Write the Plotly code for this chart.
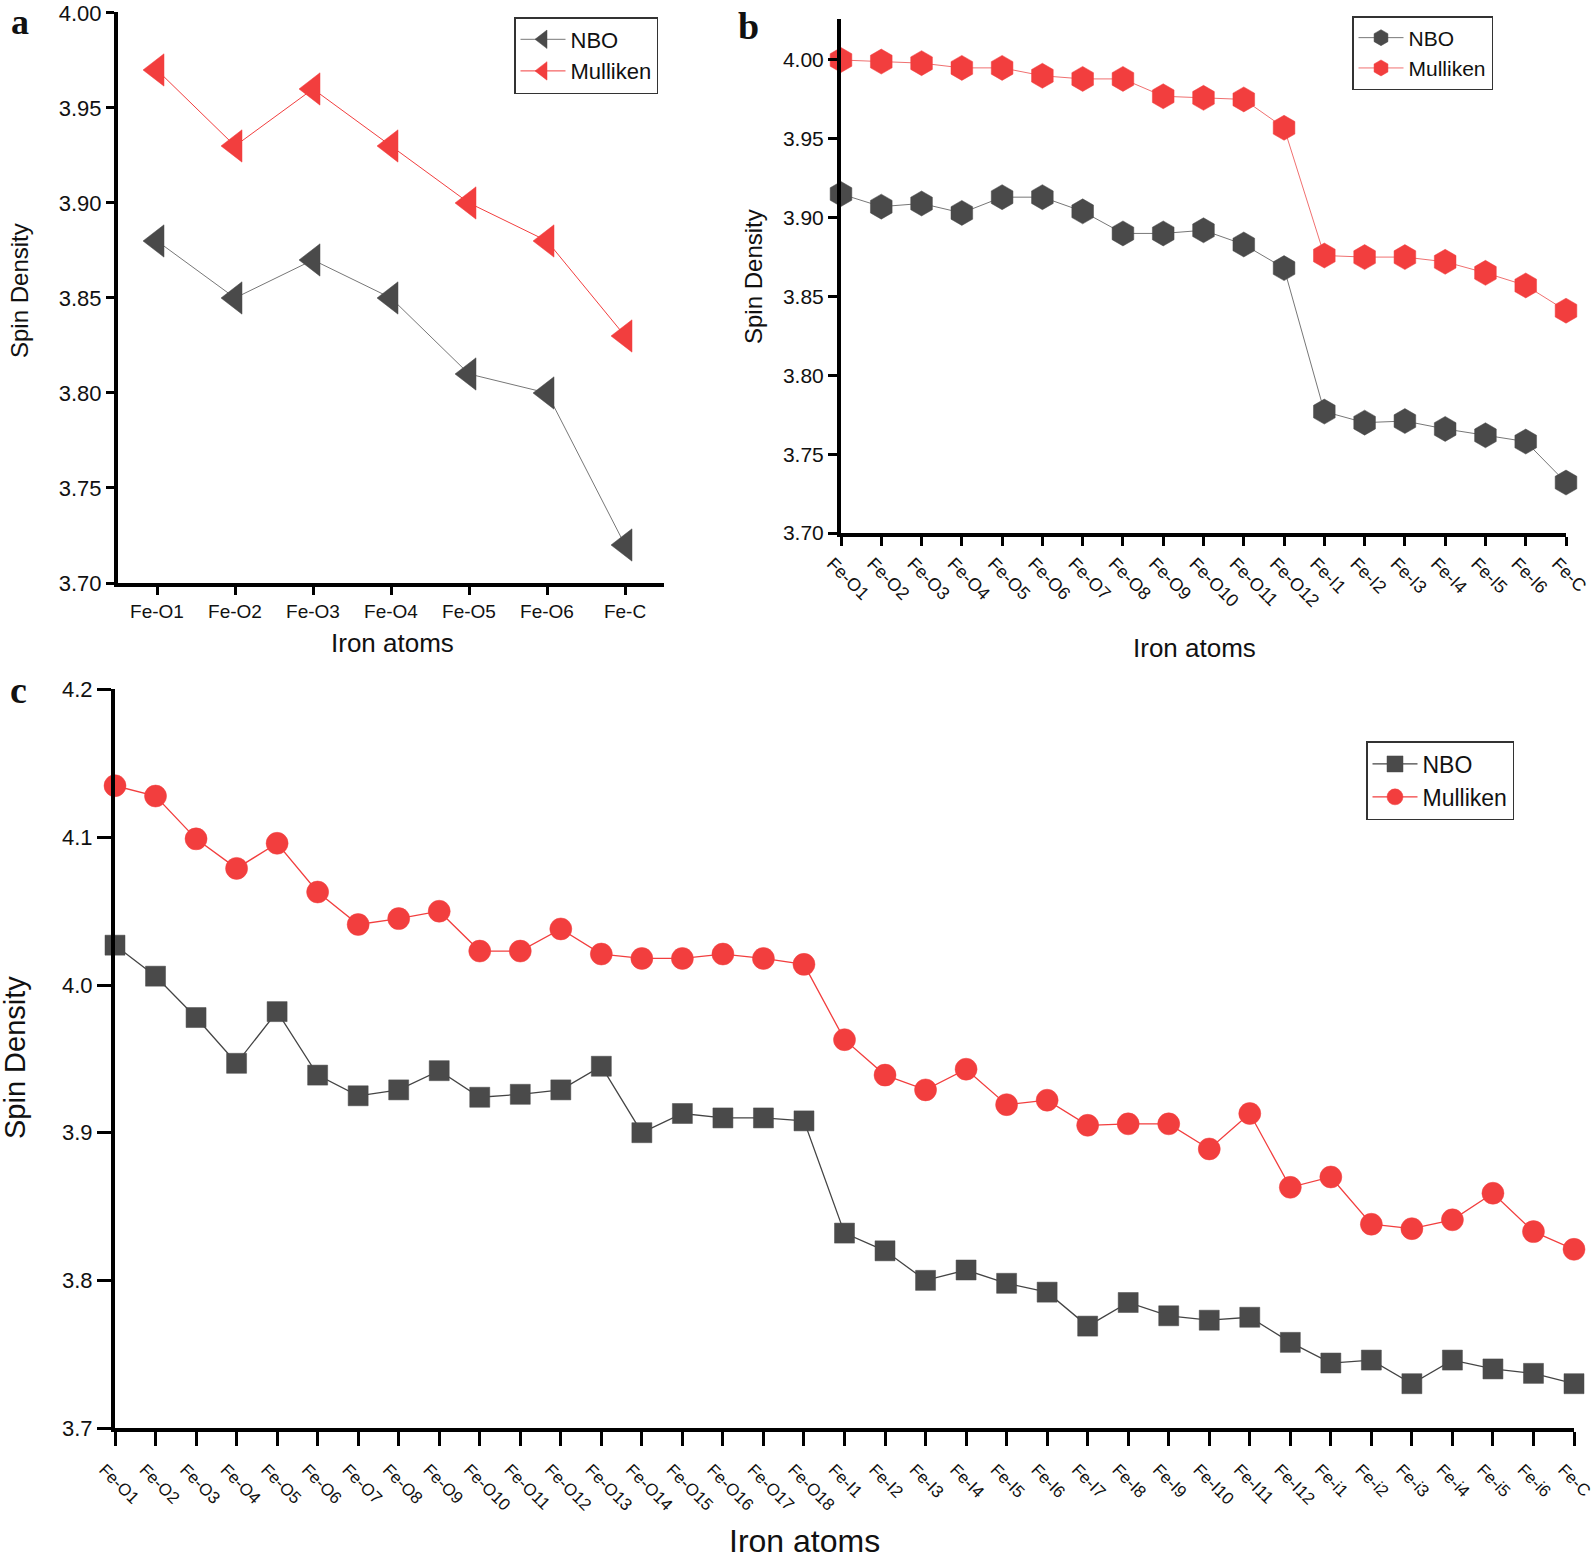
import plotly.graph_objects as go

W, H = 1596, 1560

# panel a
cats_a = ["Fe-O1", "Fe-O2", "Fe-O3", "Fe-O4", "Fe-O5", "Fe-O6", "Fe-C"]
nbo_a = [3.88, 3.85, 3.87, 3.85, 3.81, 3.80, 3.72]
mul_a = [3.97, 3.93, 3.96, 3.93, 3.90, 3.88, 3.83]
yticks_ab = [3.70, 3.75, 3.80, 3.85, 3.90, 3.95, 4.00]

# panel b
cats_b = ["Fe-O%d" % i for i in range(1, 13)] + ["Fe-I%d" % i for i in range(1, 7)] + ["Fe-C"]
nbo_b = [3.915, 3.907, 3.909, 3.903, 3.913, 3.913, 3.904, 3.890, 3.890, 3.892,
         3.883, 3.868, 3.777, 3.770, 3.771, 3.766, 3.762, 3.758, 3.732]
mul_b = [4.000, 3.999, 3.998, 3.995, 3.995, 3.990, 3.988, 3.988, 3.977, 3.976,
         3.975, 3.957, 3.876, 3.875, 3.875, 3.872, 3.865, 3.857, 3.841]

# panel c
cats_c = (["Fe-O%d" % i for i in range(1, 19)] + ["Fe-I%d" % i for i in range(1, 13)]
          + ["Fe-i%d" % i for i in range(1, 7)] + ["Fe-C"])
nbo_c = [4.027, 4.006, 3.978, 3.947, 3.982, 3.939, 3.925, 3.929, 3.942, 3.924,
         3.926, 3.929, 3.945, 3.900, 3.913, 3.910, 3.910, 3.908,
         3.832, 3.820, 3.800, 3.807, 3.798, 3.792, 3.769, 3.785, 3.776, 3.773,
         3.775, 3.758, 3.744, 3.746, 3.730, 3.746, 3.740, 3.737, 3.730]
mul_c = [4.135, 4.128, 4.099, 4.079, 4.096, 4.063, 4.041, 4.045, 4.050, 4.023,
         4.023, 4.038, 4.021, 4.018, 4.018, 4.021, 4.018, 4.014,
         3.963, 3.939, 3.929, 3.943, 3.919, 3.922, 3.905, 3.906, 3.906, 3.889,
         3.913, 3.863, 3.870, 3.838, 3.835, 3.841, 3.859, 3.833, 3.821]
yticks_c = [3.7, 3.8, 3.9, 4.0, 4.1, 4.2]

GRAY = "#4a4a4a"
RED = "#f23e3e"
FONT = "Liberation Sans"

fig = go.Figure()


def add_series(cats, vals, name, xa, ya, leg, symbol, size, color, line_color, lw):
    fig.add_trace(go.Scatter(
        x=cats, y=vals, name=name, mode="lines+markers", xaxis=xa, yaxis=ya, legend=leg,
        line=dict(color=line_color, width=lw), cliponaxis=False,
        marker=dict(symbol=symbol, size=size, color=color, line=dict(width=0.5, color=color)),
    ))


add_series(cats_a, nbo_a, "NBO", "x", "y", "legend", "triangle-left", 28, GRAY, "#777777", 1)
add_series(cats_a, mul_a, "Mulliken", "x", "y", "legend", "triangle-left", 28, RED, RED, 1)
add_series(cats_b, nbo_b, "NBO", "x2", "y2", "legend2", "hexagon", 25, GRAY, "#777777", 1)
add_series(cats_b, mul_b, "Mulliken", "x2", "y2", "legend2", "hexagon", 25, RED, "#f07070", 1)
add_series(cats_c, nbo_c, "NBO", "x3", "y3", "legend3", "square", 20, GRAY, "#444444", 1.3)
add_series(cats_c, mul_c, "Mulliken", "x3", "y3", "legend3", "circle", 22, RED, RED, 1.3)

axis_common = dict(showline=True, linewidth=4, linecolor="black", showgrid=False, zeroline=False,
                   ticks="outside", tickwidth=3, tickcolor="black", automargin=False,
                   tickfont=dict(family=FONT, size=22, color="#111111"))
xtick_font = dict(family=FONT, size=19, color="#111111")


def legend_style(x, y, size):
    return dict(x=x / W, y=1 - y / H, xanchor="left", yanchor="top", itemwidth=45,
                bordercolor="#333333", borderwidth=1.5, bgcolor="white",
                font=dict(family=FONT, size=size, color="#111111"))


fig.update_layout(
    template="none",
    width=W, height=H,
    margin=dict(l=0, r=0, t=0, b=0, autoexpand=False),
    paper_bgcolor="white", plot_bgcolor="white",
    font=dict(family=FONT, color="#111111"),
    xaxis=dict(axis_common, domain=[118 / W, 664 / W], anchor="y", type="category",
               range=[-0.5, 6.5], ticklen=8, tickfont=xtick_font),
    yaxis=dict(axis_common, domain=[1 - 583 / H, 1 - 12 / H], anchor="x",
               range=[3.70, 4.0005], tickvals=yticks_ab, tickformat=".2f", ticklen=8),
    xaxis2=dict(axis_common, domain=[841 / W, 1566 / W], anchor="y2", type="category",
                range=[0, 18], ticklen=9, tickangle=45, ticklabelshift=-9,
                tickfont=dict(xtick_font, size=18)),
    yaxis2=dict(axis_common, domain=[1 - 533 / H, 1 - 19 / H], anchor="x2",
                range=[3.70, 4.026], tickvals=yticks_ab, tickformat=".2f", ticklen=9,
                tickfont=dict(family=FONT, size=21, color="#111111")),
    xaxis3=dict(axis_common, domain=[115 / W, 1574 / W], anchor="y3", type="category",
                range=[0, 36], ticklen=14, tickangle=45, ticklabelshift=-11, ticklabelstandoff=7,
                tickfont=dict(xtick_font, size=17)),
    yaxis3=dict(axis_common, domain=[1 - 1428 / H, 1 - 689 / H], anchor="x3",
                range=[3.7, 4.2005], tickvals=yticks_c, tickformat=".1f", ticklen=14),
    legend=legend_style(514, 17, 22),
    legend2=legend_style(1352, 16, 21),
    legend3=legend_style(1366, 741, 23),
    showlegend=True,
)


def txt(x, y, s, size, angle=0, family=FONT, bold=False, yanchor="middle"):
    fig.add_annotation(x=x / W, y=1 - y / H, xref="paper", yref="paper",
                       text=("<b>%s</b>" % s) if bold else s,
                       showarrow=False, textangle=angle, xanchor="center", yanchor=yanchor,
                       font=dict(family=family, size=size, color="#111111"))


# axis titles
txt(392, 643, "Iron atoms", 26)
txt(19, 291, "Spin Density", 24, -90)
txt(1194, 648, "Iron atoms", 26)
txt(753, 277, "Spin Density", 24, -90)
txt(804, 1541, "Iron atoms", 32)
txt(15, 1058, "Spin Density", 29, -90)

# panel letters
txt(20, 0, "a", 36, family="Liberation Serif", bold=True, yanchor="top")
txt(748, 26, "b", 38, family="Liberation Serif", bold=True)
txt(18, 690, "c", 38, family="Liberation Serif", bold=True)

# drop the browser's default 8px body margin so the figure fills the window exactly
fig.write_html("out.html", config={"displayModeBar": False},
               post_script="document.body.style.margin='0';document.body.style.overflow='hidden';")
